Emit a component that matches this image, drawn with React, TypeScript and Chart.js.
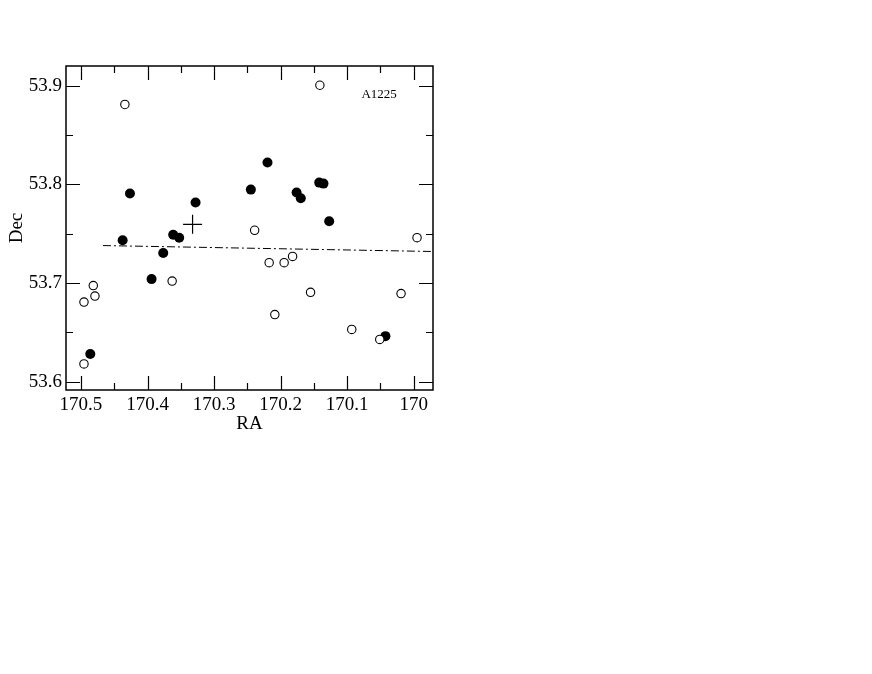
import React, { useEffect, useRef } from "react";
import { Chart, registerables } from "chart.js";
Chart.register(...registerables);

// Open circles (RA, Dec)
const openRA = [170.434, 170.141, 170.239, 169.995, 170.4955, 170.4815, 170.479, 170.4955, 170.363, 170.2172, 170.1947, 170.182, 170.155, 170.2087, 170.0931, 170.051, 170.019];
const openDec = [53.881, 53.9005, 53.7535, 53.746, 53.6807, 53.6974, 53.6868, 53.618, 53.702, 53.7207, 53.7207, 53.727, 53.6906, 53.668, 53.653, 53.6429, 53.6893];
// Filled circles (RA, Dec)
const filledRA = [170.4264, 170.3278, 170.4374, 170.3614, 170.3524, 170.3764, 170.3939, 170.486, 170.2197, 170.2447, 170.176, 170.1697, 170.142, 170.1356, 170.127, 170.0425];
const filledDec = [53.7907, 53.7816, 53.7433, 53.749, 53.746, 53.7304, 53.704, 53.628, 53.8221, 53.7947, 53.7917, 53.786, 53.8018, 53.8008, 53.7626, 53.6462];
// Cluster centre
const centerRA = [170.3323];
const centerDec = [53.7595];
// Dash-dot line
const fitRA = [170.467, 169.973];
const fitDec = [53.738, 53.732];
// Label
const labelText = "A1225";
const labelRA = 170.052;
const labelDec = 53.891;

const X_MIN = 169.971;
const X_MAX = 170.5225;
const Y_MIN = 53.5916;
const Y_MAX = 53.92;

const SERIF = "'Liberation Serif', 'Times New Roman', serif";

const zip = (xs: number[], ys: number[]) => xs.map((x, i) => ({ x, y: ys[i] }));

const frameTicks = {
  id: "frameTicks",
  afterDatasetsDraw(chart: any) {
    const { ctx, chartArea: a, scales } = chart;
    const x = scales.x;
    const y = scales.y;
    ctx.save();
    ctx.strokeStyle = "#000";
    ctx.lineWidth = 1.2;
    const step = 0.05;
    ctx.beginPath();
    for (let i = Math.ceil(x.min / step - 1e-6); i * step <= x.max + 1e-9; i++) {
      const px = Math.round(x.getPixelForValue(i * step)) + 0.5;
      const len = i % 2 === 0 ? 14 : 7;
      ctx.moveTo(px, a.bottom);
      ctx.lineTo(px, a.bottom - len);
      ctx.moveTo(px, a.top);
      ctx.lineTo(px, a.top + len);
    }
    for (let i = Math.ceil(y.min / step - 1e-6); i * step <= y.max + 1e-9; i++) {
      const py = Math.round(y.getPixelForValue(i * step)) + 0.5;
      const len = i % 2 === 0 ? 14 : 7;
      ctx.moveTo(a.left, py);
      ctx.lineTo(a.left + len, py);
      ctx.moveTo(a.right, py);
      ctx.lineTo(a.right - len, py);
    }
    ctx.stroke();
    ctx.lineWidth = 1.5;
    ctx.strokeRect(a.left, a.top, a.right - a.left, a.bottom - a.top);
    ctx.fillStyle = "#000";
    ctx.font = `13px ${SERIF}`;
    ctx.textAlign = "center";
    ctx.textBaseline = "middle";
    ctx.fillText(labelText, x.getPixelForValue(labelRA), y.getPixelForValue(labelDec));
    ctx.restore();
  },
};

export default function App() {
  const ref = useRef<HTMLCanvasElement>(null);
  useEffect(() => {
    if (!ref.current) return;
    const chart = new Chart(ref.current, {
      type: "scatter",
      data: {
        datasets: [
          {
            type: "line",
            data: zip(fitRA, fitDec),
            borderColor: "#000",
            borderWidth: 1,
            borderDash: [8, 3, 2, 3],
            pointRadius: 0,
            showLine: true,
            fill: false,
          } as any,
          {
            data: zip(openRA, openDec),
            pointStyle: "circle",
            pointRadius: 4.2,
            backgroundColor: "#fff",
            borderColor: "#000",
            borderWidth: 1.1,
          },
          {
            data: zip(filledRA, filledDec),
            pointStyle: "circle",
            pointRadius: 5,
            backgroundColor: "#000",
            borderColor: "#000",
            borderWidth: 0,
          },
          {
            data: zip(centerRA, centerDec),
            pointStyle: "cross",
            pointRadius: 9.5,
            borderColor: "#000",
            borderWidth: 1.2,
          },
        ],
      },
      options: {
        animation: false,
        responsive: false,
        devicePixelRatio: 1,
        events: [],
        layout: { padding: { left: 0, top: 66, right: 439, bottom: 239 } },
        plugins: { legend: { display: false }, tooltip: { enabled: false } },
        scales: {
          x: {
            type: "linear",
            reverse: true,
            min: X_MIN,
            max: X_MAX,
            afterFit: (s: any) => {
              s.height = 45;
            },
            grid: { display: false, drawTicks: false },
            border: { display: false },
            ticks: {
              stepSize: 0.1,
              includeBounds: false,
              autoSkip: false,
              maxRotation: 0,
              padding: 4,
              color: "#000",
              font: { family: SERIF, size: 19 },
              callback: (v: any) => String(Number(Number(v).toFixed(1))),
            },
            title: {
              display: true,
              text: "RA",
              color: "#000",
              font: { family: SERIF, size: 19 },
              padding: { top: 0, bottom: 0 },
            },
          },
          y: {
            type: "linear",
            min: Y_MIN,
            max: Y_MAX,
            afterFit: (s: any) => {
              s.width = 66;
            },
            grid: { display: false, drawTicks: false },
            border: { display: false },
            ticks: {
              stepSize: 0.1,
              includeBounds: false,
              autoSkip: false,
              padding: 4,
              color: "#000",
              font: { family: SERIF, size: 19 },
              callback: (v: any) => Number(v).toFixed(1),
            },
            title: {
              display: true,
              text: "Dec",
              color: "#000",
              font: { family: SERIF, size: 19 },
              padding: { top: 6, bottom: 0 },
            },
          },
        },
      } as any,
      plugins: [frameTicks],
    });
    return () => chart.destroy();
  }, []);
  return (
    <div style={{ position: "fixed", left: 0, top: 0, width: 872, height: 674, background: "#fff" }}>
      <canvas ref={ref} width={872} height={674} style={{ display: "block", width: 872, height: 674 }} />
    </div>
  );
}
